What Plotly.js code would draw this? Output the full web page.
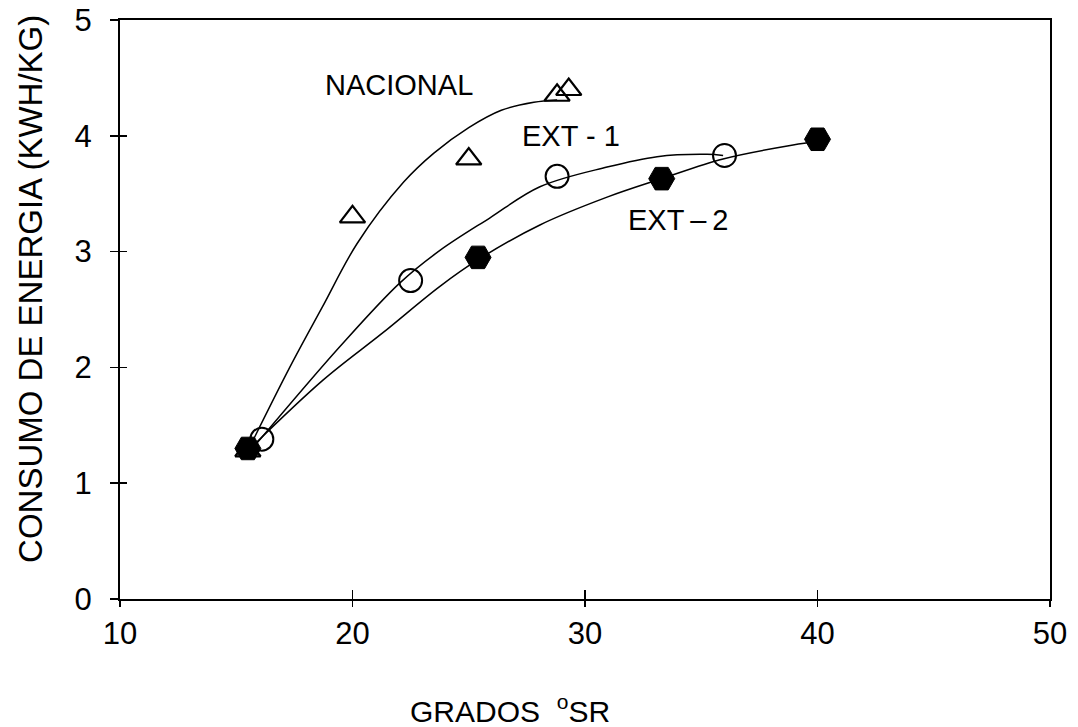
<!DOCTYPE html>
<html>
<head>
<meta charset="utf-8">
<script src="https://cdn.plot.ly/plotly-3.0.1.min.js"></script>
<style>html,body{margin:0;padding:0;background:#fff;}#chart{width:1078px;height:727px;}</style>
</head>
<body>
<div id="chart"></div>
<script>
// Measured points
const nacionalX = [15.5, 20.0, 25.0, 28.8, 29.3];
const nacionalY = [1.28, 3.30, 3.80, 4.35, 4.40];
const ext1X = [16.1, 22.5, 28.8, 36.0];
const ext1Y = [1.38, 2.75, 3.65, 3.83];
const ext2X = [15.5, 25.4, 33.3, 40.0];
const ext2Y = [1.30, 2.95, 3.63, 3.97];

// Hand-drawn fitted curves
const nacionalCurveX = [15.5, 17.3, 18.7, 20.2, 22.2, 23.5, 25.0, 26.4, 27.8, 28.8];
const nacionalCurveY = [1.28, 2.00, 2.52, 3.07, 3.60, 3.85, 4.07, 4.22, 4.29, 4.31];
const ext1CurveX = [15.7, 19.46, 22.04, 23.76, 25.9, 28.06, 30.95, 33.1, 35.25, 35.94];
const ext1CurveY = [1.30, 2.18, 2.73, 3.01, 3.29, 3.56, 3.73, 3.82, 3.84, 3.83];
const ext2CurveX = [15.6, 18.73, 21.31, 23.76, 25.4, 28.06, 30.95, 33.3, 35.94, 38.95, 40.0];
const ext2CurveY = [1.30, 1.89, 2.30, 2.70, 2.93, 3.23, 3.47, 3.63, 3.80, 3.92, 3.95];

// Axis ticks
const xTicks = [10, 20, 30, 40, 50];
const yTicks = [0, 1, 2, 3, 4, 5];

// Series labels
const labels = [
  {text: 'NACIONAL', x: 22.0, y: 4.44},
  {text: 'EXT - 1', x: 29.4, y: 4.0},
  {text: 'EXT\u2009\u2013\u20092', x: 34.0, y: 3.27}
];

const FONT = 'Liberation Sans, Arial, sans-serif';
const lineStyle = {color: '#000', width: 1.5, shape: 'spline', smoothing: 1};

const traces = [
  {x: nacionalCurveX, y: nacionalCurveY, mode: 'lines', line: lineStyle, hoverinfo: 'skip'},
  {x: ext1CurveX, y: ext1CurveY, mode: 'lines', line: lineStyle, hoverinfo: 'skip'},
  {x: ext2CurveX, y: ext2CurveY, mode: 'lines', line: lineStyle, hoverinfo: 'skip'},
  {x: nacionalX, y: nacionalY, mode: 'markers', name: 'NACIONAL',
   marker: {symbol: 'triangle-up-open', size: 22, color: '#000', line: {width: 2.2, color: '#000'}}},
  {x: ext1X, y: ext1Y, mode: 'markers', name: 'EXT-1',
   marker: {symbol: 'circle', size: 23, color: 'rgba(255,255,255,0)', line: {width: 2, color: '#000'}}},
  {x: ext2X, y: ext2Y, mode: 'markers', name: 'EXT-2',
   marker: {symbol: 'hexagon2', size: 26, color: '#000', line: {width: 1, color: '#000'}}},
  // invisible trace on overlay axes, only to draw the inner half of the crossing ticks
  {x: [10], y: [0], xaxis: 'x2', yaxis: 'y2', mode: 'markers', marker: {opacity: 0}, hoverinfo: 'skip'}
];

const annotations = labels.map(l => ({
  x: l.x, y: l.y, xref: 'x', yref: 'y', text: l.text, showarrow: false,
  font: {family: FONT, size: 29, color: '#000'}
}));
annotations.push({
  xref: 'paper', yref: 'paper', x: -0.096, y: 0.535, xanchor: 'center', yanchor: 'middle', textangle: -90,
  text: 'CONSUMO DE ENERGIA (KWH/KG)', showarrow: false,
  font: {family: FONT, size: 33, color: '#000'}
});
annotations.push({
  xref: 'paper', yref: 'paper', x: 0.419, y: -0.19, xanchor: 'center', yanchor: 'middle',
  text: 'GRADOS&nbsp;&nbsp;<sup>o</sup>SR', showarrow: false,
  font: {family: FONT, size: 30, color: '#000'}
});

const axBase = {
  showgrid: false, zeroline: false, showline: true, linecolor: '#000', linewidth: 2,
  ticks: 'outside', tickwidth: 1.5, tickcolor: '#000', mirror: true,
  tickfont: {family: FONT, size: 31, color: '#000'}
};

const layout = {
  width: 1078, height: 727,
  margin: {l: 120, r: 28, t: 20, b: 128},
  paper_bgcolor: '#fff', plot_bgcolor: '#fff',
  showlegend: false,
  xaxis: Object.assign({}, axBase, {range: [10, 50], tickvals: xTicks, ticktext: xTicks.map(String), ticklen: 6}),
  yaxis: Object.assign({}, axBase, {range: [0, 5], tickvals: yTicks, ticktext: yTicks.map(String), ticklen: 8, ticklabelstandoff: 12}),
  xaxis2: {overlaying: 'x', range: [10, 50], tickvals: xTicks, showticklabels: false, ticks: 'inside', ticklen: 9, tickwidth: 1.5, tickcolor: '#000', showgrid: false, zeroline: false, showline: false, side: 'bottom'},
  yaxis2: {overlaying: 'y', range: [0, 5], tickvals: yTicks, showticklabels: false, ticks: 'inside', ticklen: 7, tickwidth: 1.5, tickcolor: '#000', showgrid: false, zeroline: false, showline: false, side: 'left'},
  annotations: annotations
};

Plotly.newPlot('chart', traces, layout, {staticPlot: true, displayModeBar: false});
</script>
</body>
</html>
